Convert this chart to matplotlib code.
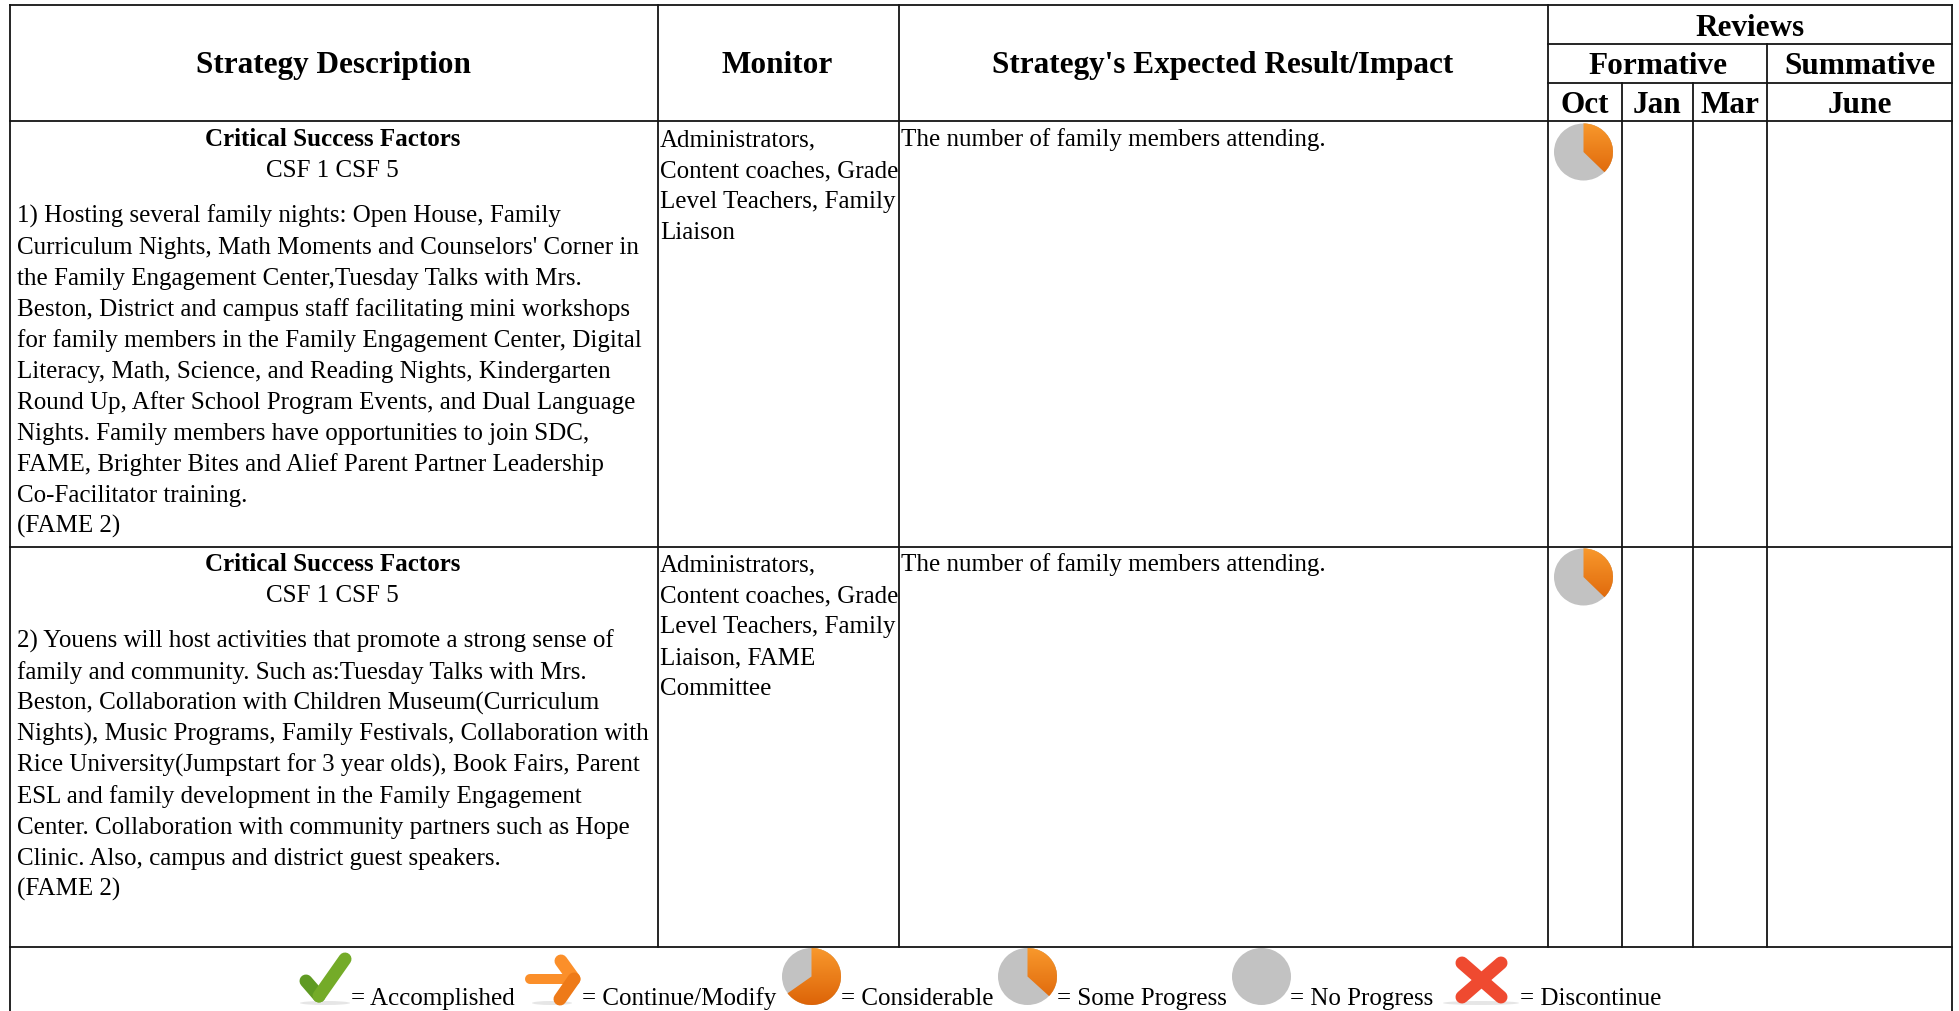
import numpy as np
import matplotlib
matplotlib.use('Agg')
import matplotlib.pyplot as plt
from matplotlib.colors import to_rgb
from matplotlib.patches import Wedge, Ellipse
from matplotlib.transforms import Affine2D

W, H = 1959, 1011
plt.rcParams['font.family'] = ['Liberation Serif', 'DejaVu Serif']

# table text
head_cols = ["Strategy Description", "Monitor", "Strategy's Expected Result/Impact"]
reviews = "Reviews"
review_groups = ["Formative", "Summative"]
review_months = ["Oct", "Jan", "Mar", "June"]
csf_title = "Critical Success Factors"
csf_line = "CSF 1 CSF 5"
strategy_1 = [
    "1) Hosting several family nights: Open House, Family",
    "Curriculum Nights, Math Moments and Counselors' Corner in",
    "the Family Engagement Center,Tuesday Talks with Mrs.",
    "Beston, District and campus staff facilitating mini workshops",
    "for family members in the Family Engagement Center, Digital",
    "Literacy, Math, Science, and Reading Nights, Kindergarten",
    "Round Up, After School Program Events, and Dual Language",
    "Nights. Family members have opportunities to join SDC,",
    "FAME, Brighter Bites and Alief Parent Partner Leadership",
    "Co-Facilitator training.",
    "(FAME 2)",
]
strategy_2 = [
    "2) Youens will host activities that promote a strong sense of",
    "family and community. Such as:Tuesday Talks with Mrs.",
    "Beston, Collaboration with Children Museum(Curriculum",
    "Nights), Music Programs, Family Festivals, Collaboration with",
    "Rice University(Jumpstart for 3 year olds), Book Fairs, Parent",
    "ESL and family development in the Family Engagement",
    "Center. Collaboration with community partners such as Hope",
    "Clinic. Also, campus and district guest speakers.",
    "(FAME 2)",
]
monitor_1 = ["Administrators,", "Content coaches, Grade", "Level Teachers, Family", "Liaison"]
monitor_2 = ["Administrators,", "Content coaches, Grade", "Level Teachers, Family", "Liaison, FAME", "Committee"]
impact = "The number of family members attending."
oct_progress = [0.375, 0.375]

legend_labels = ["= Accomplished", "= Continue/Modify", "= Considerable",
                 "= Some Progress", "= No Progress", "= Discontinue"]
legend_text_x = [351, 582, 841, 1057, 1290, 1520]
legend_fracs = [0.65, 0.37, 0.0]
legend_pie_x = [811.5, 1027.5, 1261.5]

fig = plt.figure(figsize=(W / 100, H / 100), dpi=100)
ax = fig.add_axes([0, 0, 1, 1])
ax.set_xlim(0, W)
ax.set_ylim(H, 0)
ax.axis('off')

BODY = 18.0
HEAD = 22.5
LC = '#141414'
PX = 0.72  # one pixel in points


def hline(y, x0, x1):
    ax.plot([x0, x1], [y, y], color=LC, lw=1.3, solid_capstyle='projecting')


def vline(x, y0, y1):
    ax.plot([x, x], [y0, y1], color=LC, lw=1.3, solid_capstyle='projecting')


def pie(cx, cy, w, h, frac):
    # grey disc, orange slice clockwise from twelve o'clock
    tr = Affine2D().scale(w / 2, h / 2).translate(cx, cy) + ax.transData
    ax.add_patch(Wedge((0, 0), 1, 0, 360, transform=tr, fc='#c2c2c2', ec='none', zorder=2))
    if frac > 0:
        # y axis is inverted, so -90 is the top of the circle
        sl = Wedge((0, 0), 1, -90, -90 + 360 * frac, transform=tr, fc='#f08a1e', ec='none')
        ax.add_patch(sl)
        grad = np.linspace(0, 1, 64)[:, None, None]
        img = np.array(to_rgb('#f8982c')) * (1 - grad) + np.array(to_rgb('#dd6408')) * grad
        im = ax.imshow(img, extent=[cx - w / 2, cx + w / 2, cy + h / 2, cy - h / 2], aspect='auto', zorder=3)
        im.set_clip_path(sl)
        ax.set_xlim(0, W)
        ax.set_ylim(H, 0)


def stroke(xs, ys, color, width):
    ax.plot(xs, ys, color=color, lw=width * PX, solid_capstyle='round', solid_joinstyle='round', zorder=3)


def shadow(cx, cy, w):
    ax.add_patch(Ellipse((cx, cy), w, 4, fc='#e6e6e6', ec='none', zorder=1))


# grid
x_cols = [10, 658, 899, 1548, 1952]
x_rev = [1622, 1693, 1767]
y_rows = [5, 121, 547, 946.5]
for y in y_rows:
    hline(y, x_cols[0], x_cols[-1])
hline(44, x_cols[3], x_cols[4])
hline(83, x_cols[3], x_cols[4])
vline(x_cols[0], y_rows[0], H)
vline(x_cols[4], y_rows[0], H)
for x in x_cols[1:4]:
    vline(x, y_rows[0], y_rows[3])
vline(x_rev[2], 44, y_rows[3])
for x in x_rev[:2]:
    vline(x, 83, y_rows[3])

# header
for i, t in enumerate(head_cols):
    ax.text((x_cols[i] + x_cols[i + 1]) / 2 - 1, 73, t, ha='center', va='baseline', fontsize=HEAD, fontweight='bold')
ax.text((x_cols[3] + x_cols[4]) / 2, 36, reviews, ha='center', va='baseline', fontsize=HEAD, fontweight='bold')
ax.text((x_cols[3] + x_rev[2]) / 2, 74, review_groups[0], ha='center', va='baseline', fontsize=HEAD, fontweight='bold')
ax.text((x_rev[2] + x_cols[4]) / 2, 74, review_groups[1], ha='center', va='baseline', fontsize=HEAD, fontweight='bold')
month_edges = [x_cols[3]] + x_rev + [x_cols[4]]
for i, t in enumerate(review_months):
    ax.text((month_edges[i] + month_edges[i + 1]) / 2, 113, t, ha='center', va='baseline', fontsize=HEAD, fontweight='bold')

# rows
LH = 31.0
centre = 332.5
for top, lines, mon, frac in [(146, strategy_1, monitor_1, oct_progress[0]), (571, strategy_2, monitor_2, oct_progress[1])]:
    ax.text(centre, top, csf_title, ha='center', va='baseline', fontsize=BODY, fontweight='bold')
    ax.text(centre, top + LH, csf_line, ha='center', va='baseline', fontsize=BODY)
    for j, t in enumerate(lines):
        ax.text(17, top + 77 + j * LH, t, ha='left', va='baseline', fontsize=BODY)
    for j, t in enumerate(mon):
        ax.text(x_cols[1] + 2, top + j * LH, t, ha='left', va='baseline', fontsize=BODY)
    ax.text(x_cols[2] + 2, top, impact, ha='left', va='baseline', fontsize=BODY)
    pie(1583.5, top + 6, 59, 57, frac)

# legend
for i, t in enumerate(legend_labels):
    ax.text(legend_text_x[i], 1005, t, ha='left', va='baseline', fontsize=BODY)

# check mark
shadow(325, 1003, 50)
stroke([306, 319], [981, 996], '#5f9a22', 13)
stroke([319, 345], [996, 959], '#74ab28', 13)

# arrow
shadow(552, 1003, 40)
stroke([530, 574], [978.5, 978.5], '#fb8f2a', 10)
stroke([561, 574], [961, 979], '#fb8f2a', 13)
stroke([574, 560], [979, 999], '#ee7a18', 13)

# progress pies
for cx, frac in zip(legend_pie_x, legend_fracs):
    pie(cx, 976.5, 59, 57, frac)

# cross
shadow(1481, 1003, 76)
stroke([1462, 1501], [963, 997], '#ef4a30', 13)
stroke([1501, 1462], [963, 997], '#ef4a30', 13)

fig.savefig('out.png', dpi=100)
